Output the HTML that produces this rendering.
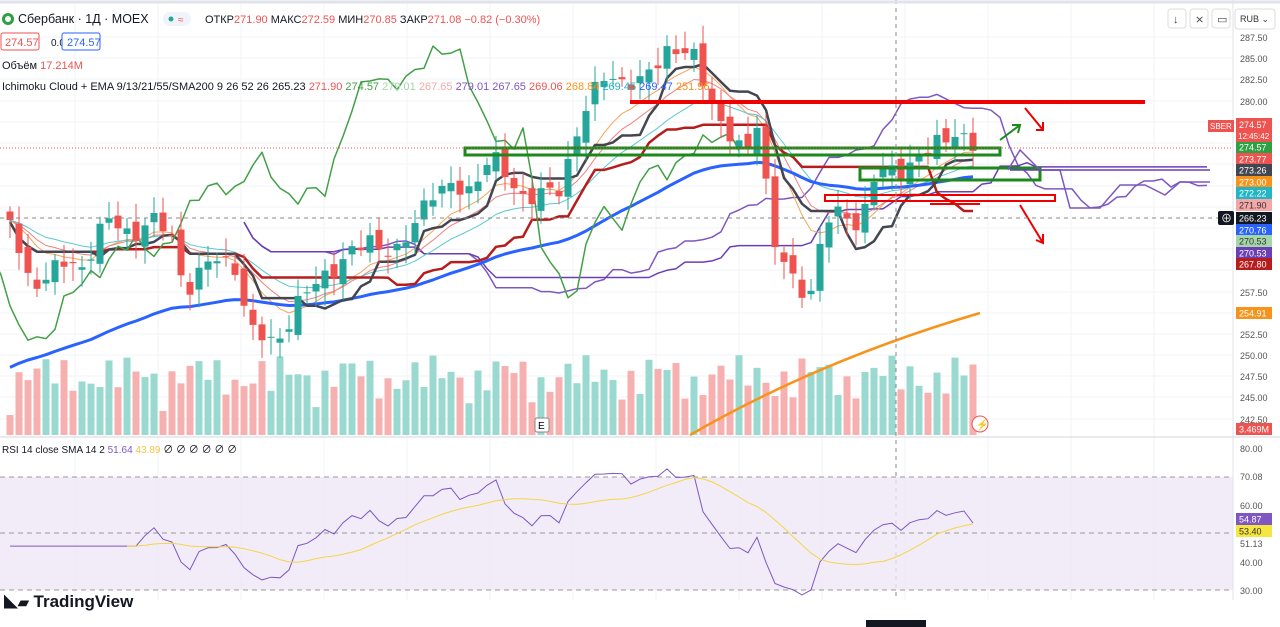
<!DOCTYPE html>
<html><head><meta charset="utf-8"><style>
body{margin:0;width:1280px;height:627px;overflow:hidden;background:#fff;font-family:"Liberation Sans",sans-serif;}
svg{position:absolute;left:0;top:0}
</style></head><body>
<svg id="s" width="1280" height="627" xmlns="http://www.w3.org/2000/svg" font-family="Liberation Sans, Noto Sans CJK SC, sans-serif"></svg>
<script>
const S=document.getElementById('s');let h='';
const Y=p=>37+(287.5-p)*8.49;
const P=y=>287.5-(y-37)/8.49;
for(let y of [37,58,79,101,122,143,164,186,207,228,249,270,292,313,334,355,376,397,419])h+=`<line x1="0" y1="${y}" x2="1233" y2="${y}" stroke="#f2f3f5"/>`;
for(let x=75;x<1233;x+=83)h+=`<line x1="${x}" y1="0" x2="${x}" y2="600" stroke="#f2f3f5"/>`;
const K=[[10,220],[30,290],[60,260],[80,275],[105,215],[130,240],[150,215],[170,235],[185,290],[210,260],[235,265],[250,330],[275,345],[300,300],[330,270],[370,240],[400,255],[430,190],[470,190],[490,155],[520,195],[545,195],[560,190],[580,120],[605,75],[640,85],[670,45],[695,60],[720,120],[745,160],[760,110],[770,230],[790,280],[810,295],[825,220],[845,215],[860,225],[875,175],[900,170],[930,150],[955,130],[975,150]];
function interp(x){for(let i=0;i<K.length-1;i++){if(x<=K[i+1][0]){const t=(x-K[i][0])/(K[i+1][0]-K[i][0]);return K[i][1]+t*(K[i+1][1]-K[i][1]);}}return K[K.length-1][1];}
const N=108,C=[],O=[],H=[],L=[],X=[];
for(let i=0;i<N;i++){const x=10+9*i;X.push(x);const n=Math.sin(i*2.3)*12+Math.sin(i*5.1)*7;C.push(P(interp(x)+n*0.6));}
for(let i=0;i<N;i++){O.push(i?C[i-1]+Math.sin(i*3.7)*0.8:C[0]+1);const hi=Math.max(O[i],C[i])+0.6+Math.abs(Math.sin(i*1.9))*1.5;const lo=Math.min(O[i],C[i])-0.6-Math.abs(Math.cos(i*2.7))*1.5;H.push(hi);L.push(lo);}
for(let i=0;i<N;i++){const v=20+Math.abs(Math.sin(i*1.3))*35+Math.abs(Math.sin(i*0.37))*25;const up=C[i]>=O[i];h+=`<rect x="${X[i]-3.5}" y="${435-v}" width="7" height="${v}" fill="${up?'#9ad9cf':'#f7b0b0'}"/>`;}
function line(arr,xs,col,w){let d='';arr.forEach((v,i)=>{if(v==null||xs[i]==null)return;d+=(d?'L':'M')+xs[i].toFixed(1)+' '+Y(v).toFixed(1);});return `<path d="${d}" fill="none" stroke="${col}" stroke-width="${w}" stroke-linejoin="round"/>`;}
function ema(n){let r=[],e=C[0]+ (n>30?-18:0);const k=2/(n+1);C.forEach(c=>{e=e+k*(c-e);r.push(e)});return r;}
function don(n,i){let hi=-1e9,lo=1e9;for(let j=Math.max(0,i-n+1);j<=i;j++){hi=Math.max(hi,H[j]);lo=Math.min(lo,L[j]);}return (hi+lo)/2;}
const ten=C.map((_,i)=>don(9,i)),kij=C.map((_,i)=>don(26,i));
const Xf=[];for(let i=0;i<N+26;i++)Xf.push(10+9*i);
const sa=[],sb=[];for(let i=0;i<N;i++){sa[i+26]=(ten[i]+kij[i])/2;sb[i+26]=don(52,i);}
h+=`<path d="M690 435 Q820 360 980 313" stroke="#f7931a" stroke-width="2.5" fill="none"/>`;
h+=line(sa,Xf,'#7e57c2',1.5)+line(sb,Xf,'#6a3fb5',1.5);
h+=line(ema(9),X,'#f5a35a',1)+line(ema(13),X,'#f08080',1)+line(ema(21),X,'#5bc8d0',1);
h+=line(ema(55),X,'#2962ff',3);
h+=line(kij,X,'#b71c1c',2.5)+line(ten,X,'#434651',2.5);
const ch=[],Xc=[];for(let i=0;i<N;i++){ch.push(C[i]);Xc.push(X[i]-26*9);}h+=line(ch,Xc,'#43a047',1.5);
for(let i=0;i<N;i++){const up=C[i]>=O[i];const col=up?'#26a69a':'#ef5350';const t=Y(Math.max(O[i],C[i])),b=Y(Math.min(O[i],C[i]));h+=`<line x1="${X[i]}" y1="${Y(H[i])}" x2="${X[i]}" y2="${Y(L[i])}" stroke="${col}"/><rect x="${X[i]-3.5}" y="${t}" width="7" height="${Math.max(1,b-t)}" fill="${col}"/>`;}
h+=`<line x1="630" y1="102" x2="1145" y2="102" stroke="#e00" stroke-width="4"/>`;
h+=`<rect x="465" y="148" width="535" height="7" fill="none" stroke="#1b8a1b" stroke-width="3"/>`;
h+=`<rect x="860" y="168" width="180" height="12" fill="none" stroke="#1b8a1b" stroke-width="3"/>`;
h+=`<rect x="825" y="195" width="230" height="6" fill="none" stroke="#e00" stroke-width="2"/>`;
h+=`<line x1="930" y1="204" x2="980" y2="204" stroke="#e00" stroke-width="2"/>`;
h+=`<path d="M1000 140 L1020 125 M1012 125 L1020 125 L1018 133" stroke="#1b8a1b" stroke-width="2" fill="none"/>`;
h+=`<path d="M1025 108 L1043 130 M1043 122 L1043 130 L1036 130" stroke="#e00" stroke-width="2" fill="none"/>`;
h+=`<path d="M1020 205 L1043 243 M1043 234 L1043 243 L1036 240" stroke="#e00" stroke-width="2" fill="none"/>`;
h+=`<path d="M1008 170 L1020 150 L1040 170 L1060 170 L1070 208 L1100 208 L1120 185 L1145 185 L1165 195 L1180 182 L1210 182" stroke="#7e57c2" stroke-width="1.5" fill="none"/>`;
h+=`<line x1="1010" y1="170" x2="1210" y2="170" stroke="#6a3fb5" stroke-width="1.5"/>`;
h+=`<line x1="896" y1="0" x2="896" y2="600" stroke="#888" stroke-dasharray="4 4"/><line x1="0" y1="218" x2="1233" y2="218" stroke="#888" stroke-dasharray="4 4"/>`;
h+=`<line x1="0" y1="148" x2="1233" y2="148" stroke="#ef5350" stroke-dasharray="1 2"/>`;
h+=`<line x1="0" y1="437" x2="1280" y2="437" stroke="#d1d4dc"/>`;
h+=`<rect x="0" y="477" width="1233" height="113" fill="#ede7f6" opacity="0.8"/>`;
h+=`<line x1="0" y1="477" x2="1233" y2="477" stroke="#999" stroke-dasharray="5 4"/><line x1="0" y1="533" x2="1233" y2="533" stroke="#999" stroke-dasharray="5 4"/><line x1="0" y1="590" x2="1233" y2="590" stroke="#999" stroke-dasharray="5 4"/>`;
const RY=r=>448+(80-Math.max(28,Math.min(82,r)))*2.84;
let g=0,l=0;for(let i=1;i<=14;i++){const d=C[i]-C[i-1];g+=Math.max(d,0)/14;l+=Math.max(-d,0)/14;}
let rs=[];for(let i=0;i<N;i++){if(i>14){const d=C[i]-C[i-1];g=(g*13+Math.max(d,0))/14;l=(l*13+Math.max(-d,0))/14;}rs[i]=100-100/(1+g/(l||1e-6));rs[i]=50+(rs[i]-50)*0.8;}
let d1='',d2='';for(let i=0;i<N;i++){d1+=(i>0?'L':'M')+X[i]+' '+RY(rs[i]).toFixed(1);if(i>=13){let s=0;for(let j=i-13;j<=i;j++)s+=rs[j];d2+=(i>13?'L':'M')+X[i]+' '+RY(s/14).toFixed(1);}}
h+=`<path d="${d1}" stroke="#7e57c2" fill="none"/><path d="${d2}" stroke="#f5d547" fill="none"/>`;
h+=`<line x1="1233" y1="0" x2="1233" y2="600" stroke="#e0e3eb"/>`;
[[287.50,37],[285.00,58],[282.50,79],[280.00,101],[257.50,292],[252.50,334],[250.00,355],[247.50,376],[245.00,397],[242.50,419]].forEach(([t,y])=>h+=`<text x="1240" y="${y+4}" font-size="9" fill="#555">${t.toFixed(2)}</text>`);
[['80.00',448],['70.08',476],['60.00',505],['51.13',543],['40.00',562],['30.00',590]].forEach(([t,y])=>h+=`<text x="1240" y="${y+4}" font-size="9" fill="#555">${t}</text>`);
[['274.57','#2ea043',147],['273.77','#ef5350',159],['273.26','#434651',170],['273.00','#f7931a',182],['272.22','#22b5c5',193],['271.90','#f5a7a7',205],['266.23','#131722',218],['270.76','#2962ff',230],['270.53','#a5d6a7',241],['270.53','#6a3fb5',253],['267.80','#b71c1c',264],['254.91','#f7931a',313],['3.469M','#ef5350',429],['54.87','#7e57c2',519],['53.40','#f5e642',531]].forEach(([t,c,y])=>h+=`<rect x="1236" y="${y-6}" width="36" height="12" fill="${c}"/><text x="1239" y="${y+3.5}" font-size="9" fill="${c=='#f5e642'||c=='#a5d6a7'||c=='#f5a7a7'?'#333':'#fff'}">${t}</text>`);
h+=`<rect x="1236" y="118" width="36" height="24" fill="#ef5350"/><text x="1239" y="128" font-size="9" fill="#fff">274.57</text><text x="1238" y="139" font-size="8" fill="#fff">12:45:42</text>`;
h+=`<rect x="1208" y="120" width="26" height="12" fill="#ef5350"/><text x="1210" y="129" font-size="8" fill="#fff">SBER</text>`;
h+=`<rect x="1218" y="211" width="16" height="14" rx="2" fill="#131722"/><text x="1221" y="222" font-size="11" fill="#fff">⊕</text>`;
h+=`<text x="1240" y="22" font-size="9" fill="#333">RUB ⌄</text><rect x="1235" y="9" width="40" height="20" rx="3" fill="none" stroke="#ddd"/>`;
[1168,1190,1212].forEach((x,i)=>h+=`<rect x="${x}" y="9" width="18" height="19" rx="3" fill="none" stroke="#ddd"/><text x="${x+5}" y="23" font-size="11" fill="#444">${['↓','⨯','▭'][i]}</text>`);
h+=`<line x1="0" y1="2" x2="1280" y2="2" stroke="#e0e3eb" stroke-width="3"/>`;
h+=`<circle cx="8" cy="19" r="6" fill="#2ea043"/><circle cx="8" cy="19" r="3" fill="#fff"/>`;
h+=`<text x="18" y="23" font-size="12.5" fill="#131722">Сбербанк · 1Д · MOEX</text>`;
h+=`<rect x="163" y="12" width="28" height="14" rx="7" fill="#f0f3fa"/><circle cx="171" cy="19" r="2.5" fill="#26a69a"/><text x="178" y="23" font-size="10" fill="#ef5350">≈</text>`;
h+=`<text x="205" y="23" font-size="11" fill="#131722">ОТКР<tspan fill="#ef5350">271.90</tspan> МАКС<tspan fill="#ef5350">272.59</tspan> МИН<tspan fill="#ef5350">270.85</tspan> ЗАКР<tspan fill="#ef5350">271.08 −0.82 (−0.30%)</tspan></text>`;
h+=`<rect x="1" y="33" width="38" height="17" rx="2" fill="#fff" stroke="#ef5350"/><text x="5" y="46" font-size="11" fill="#ef5350">274.57</text><text x="51" y="46" font-size="10" fill="#131722">0.00</text><rect x="62" y="33" width="38" height="17" rx="2" fill="#fff" stroke="#2962ff"/><text x="67" y="46" font-size="11" fill="#2962ff">274.57</text>`;
h+=`<text x="2" y="69" font-size="11" fill="#131722">Объём <tspan fill="#ef5350">17.214M</tspan></text>`;
h+=`<text x="2" y="90" font-size="11" fill="#131722">Ichimoku Cloud + EMA 9/13/21/55/SMA200 9 26 52 26 265.23 <tspan fill="#ef5350">271.90</tspan> <tspan fill="#43a047">274.57</tspan> <tspan fill="#a5d6a7">279.01</tspan> <tspan fill="#f5a7a7">267.65</tspan> <tspan fill="#7e57c2">279.01</tspan> <tspan fill="#7e57c2">267.65</tspan> <tspan fill="#ef5350">269.06</tspan> <tspan fill="#f7931a">268.84</tspan> <tspan fill="#22b5c5">269.45</tspan> <tspan fill="#2962ff">269.47</tspan> <tspan fill="#f7931a">251.96</tspan></text>`;
h+=`<text x="2" y="453" font-size="10" fill="#131722">RSI 14 close SMA 14 2 <tspan fill="#7e57c2">51.64</tspan> <tspan fill="#f5c542">43.89</tspan> ∅ ∅ ∅ ∅ ∅ ∅</text>`;
h+=`<rect x="535" y="418" width="14" height="14" rx="2" fill="#fff" stroke="#888"/><text x="538" y="429" font-size="10">E</text>`;
h+=`<circle cx="980" cy="424" r="8" fill="#fff" stroke="#ef5350"/><text x="976" y="428" font-size="10" fill="#ef5350">⚡</text>`;
h+=`<text x="4" y="607" font-size="17" font-weight="bold" fill="#131722"><tspan font-size="14">◣▰</tspan> TradingView</text>`;
h+=`<rect x="866" y="620" width="60" height="10" fill="#131722"/>`;
S.innerHTML=h;
</script>
</body></html>
